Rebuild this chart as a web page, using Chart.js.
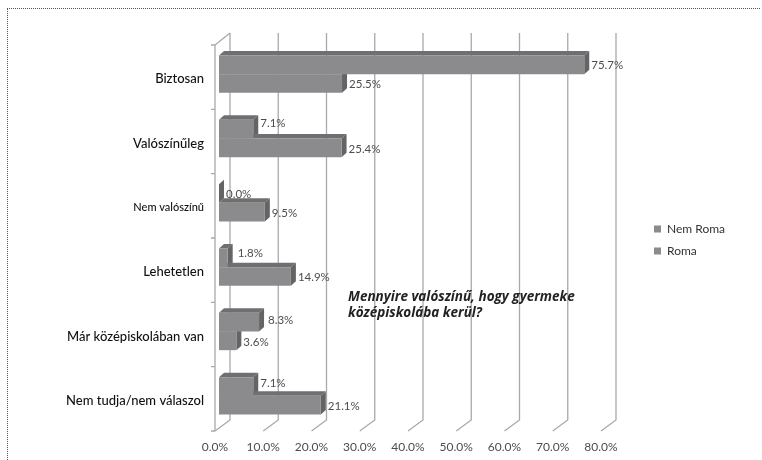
<!DOCTYPE html>
<html>
<head>
<meta charset="utf-8">
<script src="https://cdn.jsdelivr.net/npm/chart.js@4"></script>
<style>
body { margin: 0; background: #fff; overflow: hidden; }
#wrap { width: 762px; height: 460px; position: relative; overflow: hidden; }
#frame { position: absolute; left: 7px; top: 8px; width: 753px; height: 470px; border-top: 1px dotted #555; border-left: 1px dotted #555; box-sizing: border-box; }
#chart { position: absolute; left: 0; top: 0; }
</style>
</head>
<body>
<div id="wrap">
<div id="frame"></div>
<canvas id="chart" width="762" height="460"></canvas>
</div>
<script>
const categories = ['Biztosan', 'Valószínűleg', 'Nem valószínű', 'Lehetetlen', 'Már középiskolában van', 'Nem tudja/nem válaszol'];
const nemRoma = [75.7, 7.1, 0.0, 1.8, 8.3, 7.1];
const roma = [25.5, 25.4, 9.5, 14.9, 3.6, 21.1];
const titleLines = ['Mennyire valószínű, hogy gyermeke', 'középiskolába kerül?'];

const FONT = 'Lato, "Open Sans", sans-serif';
const FRONT = '#8b8b8d';
const TOP_FACE = '#6f6f71';
const SIDE_FACE = '#646466';
const GRID = '#a9a9a9';

// the short Nem Roma labels sit a bit above and right of the bar middle
const nudgeY = [-1, -7, 0, -6, -3, -4];
const nudgeX = [1, 1, 1, 4, 3, 1];

// fake 3D walls, bar sides and labels
const depthPlugin = {
    id: 'depth',
    beforeDatasetsDraw(chart) {
        const ctx = chart.ctx;
        const area = chart.chartArea;
        const x = chart.scales.x;

        ctx.save();
        ctx.strokeStyle = GRID;
        ctx.lineWidth = 1.3;
        x.ticks.forEach(t => {
            const px = x.getPixelForValue(t.value);
            ctx.beginPath();
            ctx.moveTo(px - 4, area.bottom + 3);
            ctx.lineTo(px + 11, area.bottom - 8);
            ctx.lineTo(px + 11, area.top - 9);
            ctx.stroke();
        });
        // front vertical axis and category ticks
        ctx.beginPath();
        ctx.moveTo(215, area.top + 3);
        ctx.lineTo(215, area.bottom + 3);
        ctx.moveTo(215, area.top + 3);
        ctx.lineTo(230, area.top - 9);
        for (let i = 0; i <= categories.length; i++) {
            const ty = area.top + 3 + (area.bottom - area.top) * i / categories.length;
            ctx.moveTo(211, ty);
            ctx.lineTo(215, ty);
        }
        ctx.stroke();

        // top and side faces
        chart.data.datasets.forEach((ds, d) => {
            chart.getDatasetMeta(d).data.forEach(bar => {
                const p = bar.getProps(['x', 'y', 'base', 'height'], true);
                const t = p.y - p.height / 2;
                const b = p.y + p.height / 2;
                ctx.fillStyle = TOP_FACE;
                ctx.beginPath();
                ctx.moveTo(p.base, t);
                ctx.lineTo(p.base + 5, t - 4.5);
                ctx.lineTo(p.x + 5, t - 4.5);
                ctx.lineTo(p.x, t);
                ctx.fill();
                ctx.fillStyle = SIDE_FACE;
                ctx.beginPath();
                ctx.moveTo(p.x, t);
                ctx.lineTo(p.x + 5, t - 4.5);
                ctx.lineTo(p.x + 5, b - 4.5);
                ctx.lineTo(p.x, b);
                ctx.fill();
            });
        });
        ctx.restore();
    },
    afterDatasetsDraw(chart) {
        const ctx = chart.ctx;
        ctx.save();
        ctx.font = '11.5px ' + FONT;
        ctx.fillStyle = '#4d4d4d';
        ctx.textBaseline = 'middle';
        chart.data.datasets.forEach((ds, d) => {
            chart.getDatasetMeta(d).data.forEach((bar, i) => {
                const dx = d === 0 ? nudgeX[i] : 1;
                const dy = d === 0 ? nudgeY[i] : 0;
                ctx.fillText(ds.data[i].toFixed(1) + '%', bar.x + 6 + dx, bar.y + 1 + dy);
            });
        });
        ctx.font = 'italic bold 13.5px "Open Sans", ' + FONT;
        ctx.fillStyle = '#222';
        titleLines.forEach((line, i) => {
            ctx.fillText(line, 348, 297 + i * 16);
        });
        ctx.restore();
    },
    afterLayout(chart) {
        // legend sits right of the plot, not over it
        const lg = chart.legend;
        lg.left = 644;
        lg.right = lg.left + lg.width;
        lg.top = 213;
        lg.bottom = lg.top + lg.height;
    }
};

new Chart(document.getElementById('chart'), {
    type: 'bar',
    data: {
        labels: categories,
        datasets: [
            { label: 'Nem Roma', data: nemRoma, backgroundColor: FRONT },
            { label: 'Roma', data: roma, backgroundColor: FRONT }
        ]
    },
    options: {
        indexAxis: 'y',
        responsive: false,
        animation: false,
        layout: { padding: { top: 42, right: 157, bottom: 0, left: 0 } },
        datasets: { bar: { categoryPercentage: 0.58, barPercentage: 1 } },
        scales: {
            x: {
                min: 0,
                max: 80,
                grid: { display: false },
                border: { display: false },
                afterFit(scale) { scale.height = 32; },
                ticks: {
                    stepSize: 10,
                    padding: 4,
                    labelOffset: -4,
                    maxRotation: 0,
                    color: '#4d4d4d',
                    font: { family: FONT, size: 12 },
                    callback: v => v.toFixed(1) + '%'
                }
            },
            y: {
                grid: { display: false },
                border: { display: false },
                afterFit(scale) { scale.width = 219; },
                ticks: {
                    padding: 7,
                    labelOffset: 5,
                    color: '#111',
                    font: ctx => ({ family: FONT, size: ctx.index === 2 ? 11 : 13, weight: '500' })
                }
            }
        },
        plugins: {
            tooltip: { enabled: false },
            legend: {
                position: 'chartArea',
                align: 'start',
                labels: {
                    boxWidth: 7,
                    boxHeight: 7,
                    padding: 10,
                    color: '#333',
                    font: { family: FONT, size: 12 }
                }
            }
        }
    },
    plugins: [depthPlugin]
});
</script>
</body>
</html>
